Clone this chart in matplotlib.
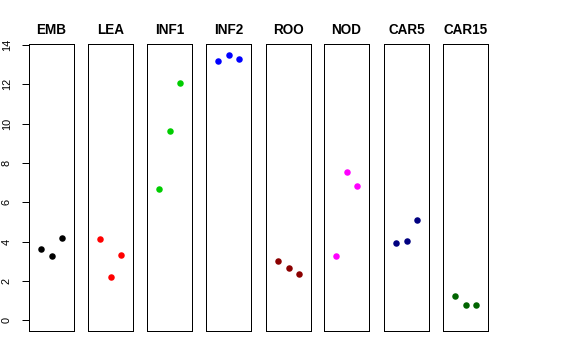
import numpy as np
import matplotlib
matplotlib.use("Agg")
import matplotlib.pyplot as plt

plt.rcParams['font.family'] = ['Liberation Sans', 'DejaVu Sans']

groups = ["EMB", "LEA", "INF1", "INF2", "ROO", "NOD", "CAR5", "CAR15"]
colors = ["black", "red", "#00CD00", "blue", "#8B0000", "magenta", "#000080", "#006400"]
reps = [1, 2, 3]
values = {
    "EMB":   [3.65, 3.27, 4.20],
    "LEA":   [4.15, 2.21, 3.32],
    "INF1":  [6.65, 9.60, 12.05],
    "INF2":  [13.20, 13.49, 13.29],
    "ROO":   [3.00, 2.68, 2.34],
    "NOD":   [3.29, 7.52, 6.84],
    "CAR5":  [3.93, 4.05, 5.10],
    "CAR15": [1.23, 0.80, 0.80],
}
yticks = [0, 2, 4, 6, 8, 10, 12, 14]

W, H = 576, 360
fig = plt.figure(figsize=(W / 72, H / 72), dpi=72)

lefts = [29, 88, 147, 206, 266, 324, 384, 443]
pw = 45
bottom, top = 331, 44

for i, g in enumerate(groups):
    ax = fig.add_axes([lefts[i] / W, 1 - bottom / H, pw / W, (bottom - top) / H])
    ax.plot(reps, values[g], 'o', color=colors[i], markersize=6.5, markeredgewidth=0)
    ax.set_xlim(-0.16, 4.16)
    ax.set_ylim(-0.54, 14.04)
    ax.set_xticks([])
    for s in ax.spines.values():
        s.set_linewidth(1.0)
        s.set_color("black")
    ax.set_title(g, fontsize=13.5, fontweight='bold', pad=10)
    if i == 0:
        ax.set_yticks(yticks)
        ax.set_yticklabels([str(t) for t in yticks], rotation=90, va='center', fontsize=11)
        ax.tick_params(axis='y', length=7, width=1, pad=10)
    else:
        ax.set_yticks([])

fig.savefig("out.png", dpi=72)
